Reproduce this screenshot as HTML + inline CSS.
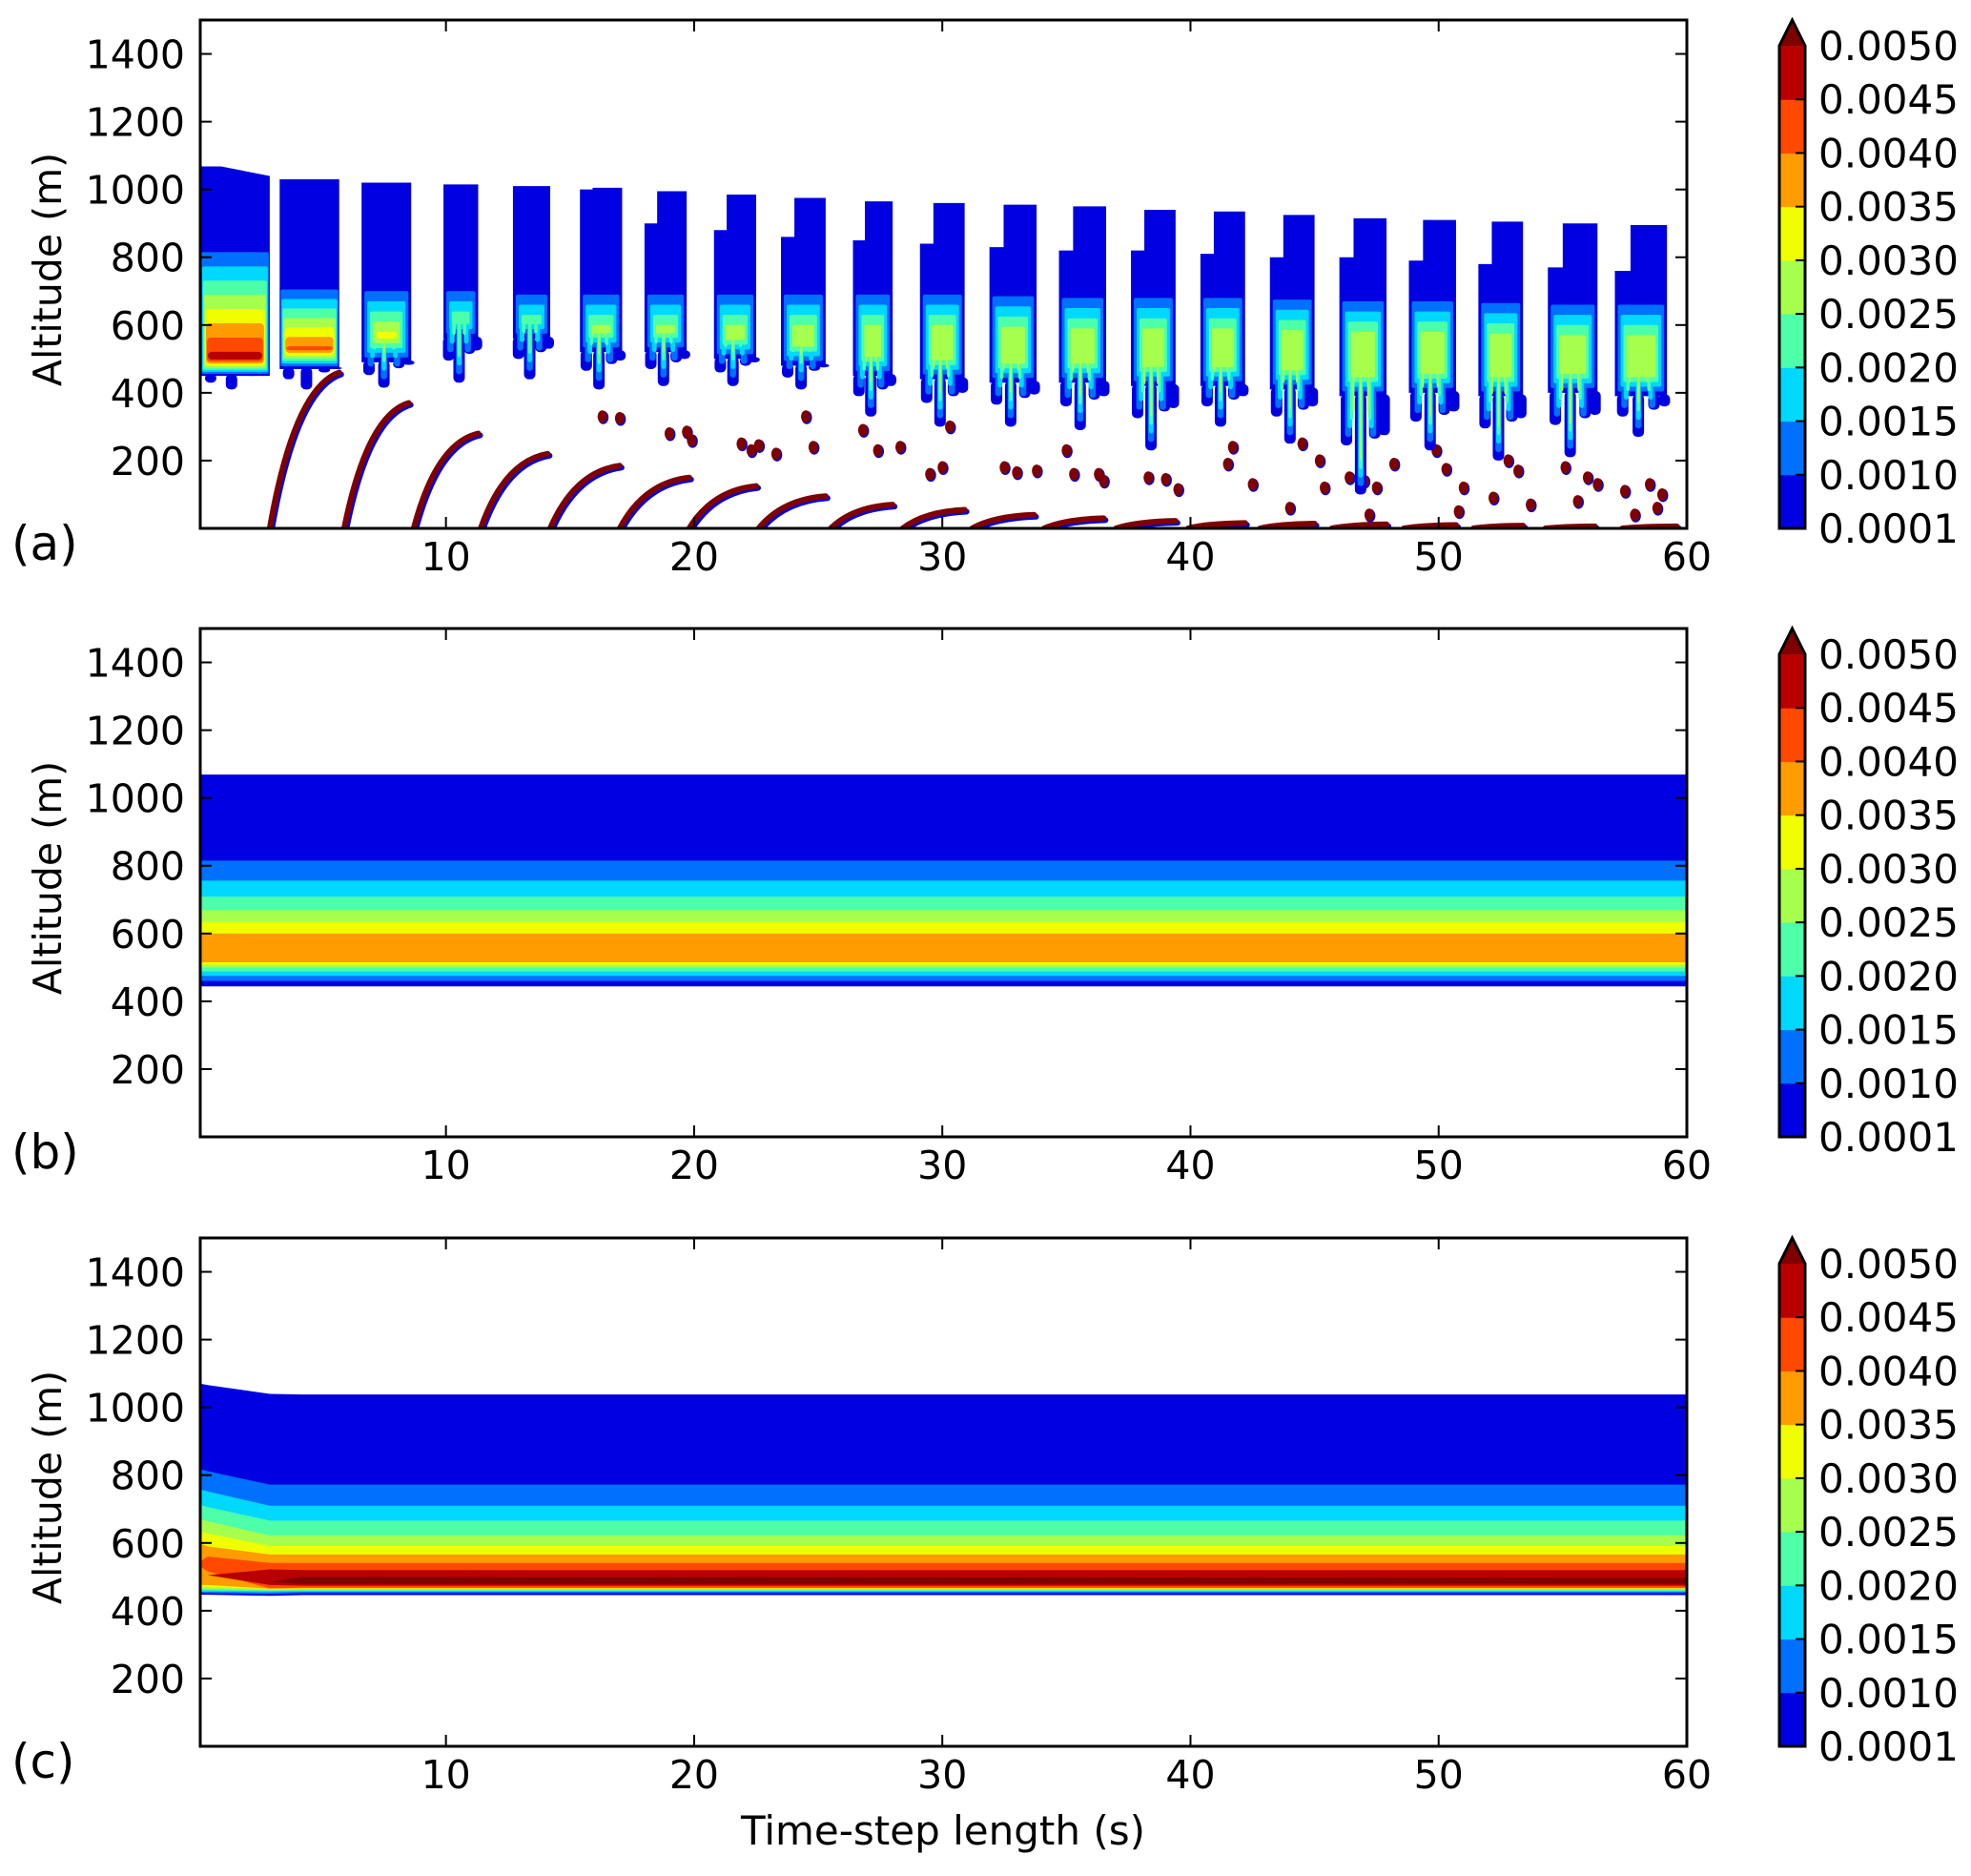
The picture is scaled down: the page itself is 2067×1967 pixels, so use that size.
<!DOCTYPE html>
<html><head><meta charset="utf-8"><style>
html,body{margin:0;padding:0;background:#fff;}
svg text{font-family:"DejaVu Sans","Liberation Sans",sans-serif;fill:#000;}
</style></head><body>
<svg id="fig" xmlns="http://www.w3.org/2000/svg" width="2067" height="1962" viewBox="0 0 2067 1962"></svg>
<script>
// ---- shared data ----
const levelColors = ["#0000e0","#0070ff","#00d8ff","#4cffa8","#a6ff4c","#f0ff00","#ff9c00","#ff4800","#b80000","#7f0000"];
const cbLabels = ["0.0001","0.0010","0.0015","0.0020","0.0025","0.0030","0.0035","0.0040","0.0045","0.0050"];
const yTicks = [200,400,600,800,1000,1200,1400];
const xTicks = [10,20,30,40,50,60];
const panelLetters = ["(a)","(b)","(c)"];

// ---- panel (a): clouds ----
const cloudStart = [0.1,3.3,6.6,9.9,12.7,15.4,18.0,20.8,23.5,26.4,29.1,31.9,34.7,37.6,40.4,43.2,46.0,48.8,51.6,54.4,57.1];
const cloudEnd   = [2.9,5.7,8.6,11.3,14.2,17.1,19.7,22.5,25.3,28.0,30.9,33.8,36.6,39.4,42.2,45.0,47.9,50.7,53.4,56.4,59.2];
const cloudTop   = [1068,1030,1020,1015,1010,1005,995,985,975,965,960,955,950,940,935,925,915,910,905,900,895];
const cloudShoulder=[1068,1030,1020,1015,1010,1000,900,880,860,850,840,830,820,820,810,800,800,790,780,770,760];
const cloudL1Top = [815,705,700,700,690,690,690,690,690,690,690,685,680,680,680,675,670,670,665,660,660];
const cloudMaxLvl= [9,9,5,4,3,4,4,4,4,4,4,4,4,4,4,4,4,4,4,4,4];
const cloudBase  = [450,470,490,560,560,520,520,500,480,450,440,430,430,420,420,410,390,400,390,400,390];
const cloudTail  = [410,410,415,430,440,410,420,420,410,330,300,300,290,230,300,250,100,230,200,210,270];
// precipitation arcs: [xTop, altTop, xGround]
const arcTopX = [5.7,8.5,11.3,14.1,17.0,19.8,22.5,25.3,28.0,30.9,33.7,36.5,39.4,42.2,45.0,47.9,50.7,53.4,56.3,59.6];
const arcTopAlt=[460,370,280,220,185,150,125,95,70,55,40,30,22,16,14,12,10,8,6,6];
const arcGroundX=[2.9,5.9,8.7,11.4,14.2,17.0,19.8,22.6,25.5,28.4,31.2,34.1,37.0,39.9,42.8,45.7,48.6,51.4,54.3,57.4];
const dropX = [16.3,17.0,19.0,19.7,19.9,21.9,22.3,22.6,23.3,24.5,24.8,26.8,27.4,28.3,29.5,30.0,30.3,32.5,33.0,33.8,35.0,35.3,36.3,36.5,38.3,39.0,39.5,41.7,41.5,42.5,44.5,45.2,45.4,46.4,47.0,47.5,48.2,49.9,50.3,51.0,52.8,53.2,53.7,55.1,56.0,56.4,58.5,59.0,58.8,57.5,44.0,47.2,50.8,52.2,55.6,57.9];
const dropAlt = [330,325,280,285,260,250,230,245,220,330,240,290,230,240,160,180,300,180,165,170,230,160,160,140,150,145,115,240,190,130,250,200,120,150,140,120,190,230,175,120,200,170,70,180,150,130,130,100,60,110,60,40,50,90,80,40];

// ---- panel (b): nested bands per level ----
const bBottoms = [444,460,475,488,500,508,515];
const bTops    = [1069,815,756,709,669,634,600];

// ---- panel (c): knots and per-level tops/bottoms ----
const cKnots = [0.1,0.4,2.9,4.2,60];
const cTops = [
  [1070,1066,1040,1038,1038],
  [818,812,772,772,772],
  [758,752,710,710,710],
  [712,706,666,666,666],
  [670,664,622,622,622],
  [635,628,591,591,591],
  [598,590,566,566,566],
  [545,560,541,541,541],
  [505,505,522,520,520],
  [485,485,485,500,497]
];
const cBots = [
  [447,447,444,446,446],
  [452,452,450,452,452],
  [456,456,454,456,456],
  [460,460,458,459,459],
  [464,464,461,462,462],
  [470,470,463,464,464],
  [476,476,465,466,466],
  [530,516,466,468,468],
  [505,505,476,474,474],
  [485,485,485,479,480]
];

// ---- layout ----
const X0=210, X1=1769, XMIN=0.1, XMAX=60;
const panelTops=[21,659,1298], PH=533;
const YMIN=0, YMAX=1500;
const CBX=1866, CBW=27;
const NS="http://www.w3.org/2000/svg";
const svg=document.getElementById('fig');
function el(tag, attrs, parent){const e=document.createElementNS(NS,tag);for(const k in attrs)e.setAttribute(k,attrs[k]);(parent||svg).appendChild(e);return e;}
function sx(v){return X0+(v-XMIN)/(XMAX-XMIN)*(X1-X0);}
function syF(top){return v=>top+PH-(v-YMIN)/(YMAX-YMIN)*PH;}

panelTops.forEach((top,pi)=>{
  const sy=syF(top);
  const g=el('g',{});
  
  
  const clipId='clip'+pi;
  const cp=el('clipPath',{id:clipId},g); el('rect',{x:X0,y:top,width:X1-X0,height:PH},cp);
  const plot=el('g',{'clip-path':'url(#'+clipId+')'},g);
  
  

  if(pi===0){
    arcTopX.forEach((xt,i)=>{
      const xg=arcGroundX[i], at=arcTopAlt[i];
      const x0=sx(xg), y0=sy(0), x2=sx(xt), y2=sy(at);
      const cx=sx(xg+0.35*(xt-xg)), cy=sy(at*0.9);
      const d=`M${x0},${y0} Q${cx},${cy} ${x2},${y2}`;
      el('path',{d:d,fill:'none',stroke:levelColors[0],'stroke-width':6,'stroke-linecap':'round',transform:'translate(2,2)'},plot);
      const p=el('path',{d:d,fill:'none',stroke:levelColors[9],'stroke-width':6,'stroke-linecap':'round'},plot);
      
      
    });
    dropX.forEach((x,i)=>{
      el('ellipse',{cx:sx(x)+1,cy:sy(dropAlt[i])+1,rx:5.5,ry:7,fill:levelColors[0]},plot);
      const c=el('ellipse',{cx:sx(x),cy:sy(dropAlt[i]),rx:5,ry:6.5,fill:levelColors[9]},plot);
      
      
    });
    cloudStart.forEach((s,i)=>{
      const e=cloudEnd[i], w=sx(e)-sx(s);
      const cg=el('g',{},plot);
      
      
      const fr=[0.15,0.45,0.75,0.95];
      for(let k=0;k<=cloudMaxLvl[i];k++){
        const inset=k===0?0:Math.min(w*0.4,(i<2?1:3)*k);
        const xl=sx(s)+inset, xr=sx(e)-inset;
        let topAlt = k===0?cloudTop[i]:cloudL1Top[i]-(k-1)*(i===0?42:(i===1?28:30));
        const baseAlt=cloudBase[i]+k*(i===0?6:(i<2?8:14));
        if(topAlt<=baseAlt) continue;
        const col=levelColors[k];
        if(k===0){
          const sh=xl+w*0.3;
          const path=`M${xl},${sy(cloudShoulder[i])} L${sh},${sy(cloudShoulder[i])} L${sh},${sy(cloudTop[i])} L${xr},${sy(cloudTop[i]-(i===0?28:0))} L${xr},${sy(baseAlt)} L${xl},${sy(baseAlt)} Z`;
          el('path',{d:path,fill:col},cg);
          fr.forEach((f,j)=>{
            const fx=xl+w*f, tailAlt=j===1?cloudTail[i]:(cloudTail[i]+baseAlt)/2+j*10;
            el('rect',{x:fx-6,y:sy(baseAlt)-2,width:12,height:Math.max(0,sy(tailAlt)-sy(baseAlt)+2),rx:5,fill:col},cg);
          });
        } else {
          el('rect',{x:xl,y:sy(topAlt),width:Math.max(0,xr-xl),height:sy(baseAlt)-sy(topAlt),rx:k>4?4:2,fill:col},cg);
          if(i>1 && k<=4){
            fr.slice(0,3).forEach((f,j)=>{
              const fx=xl+(xr-xl)*f, tailAlt=(j===1?cloudTail[i]:(cloudTail[i]+cloudBase[i])/2)+k*25;
              if(tailAlt<baseAlt) el('rect',{x:fx-4+k*0.5,y:sy(baseAlt)-2,width:Math.max(2,8-k*1.5),height:sy(tailAlt)-sy(baseAlt)+2,rx:3,fill:col},cg);
            });
          }
        }
      }
    });
  } else if(pi===1){
    bBottoms.forEach((b,k)=>{
      const r=el('rect',{x:X0,y:sy(bTops[k]),width:X1-X0,height:sy(b)-sy(bTops[k]),fill:levelColors[k]},plot);
      
      
    });
  } else {
    cTops.forEach((tops,k)=>{
      const bots=cBots[k];
      let d='';
      cKnots.forEach((x,j)=>{d+=(j?'L':'M')+sx(x)+','+sy(tops[j])+' ';});
      for(let j=cKnots.length-1;j>=0;j--) d+='L'+sx(cKnots[j])+','+sy(bots[j])+' ';
      const p=el('path',{d:d+'Z',fill:levelColors[k]},plot);
      
      
    });
  }

  const fr=el('rect',{x:X0,y:top,width:X1-X0,height:PH,fill:'none',stroke:'#000','stroke-width':3},g);
  
  
  yTicks.forEach(v=>{
    const y=sy(v);
    el('line',{x1:X0,y1:y,x2:X0+12,y2:y,stroke:'#000','stroke-width':2},g);
    el('line',{x1:X1,y1:y,x2:X1-12,y2:y,stroke:'#000','stroke-width':2},g);
    const t=el('text',{x:194,y:y+15,'text-anchor':'end','font-size':41},g);
    t.textContent=v;
    
    
  });
  xTicks.forEach(v=>{
    const x=sx(v);
    el('line',{x1:x,y1:top+PH,x2:x,y2:top+PH-12,stroke:'#000','stroke-width':2},g);
    el('line',{x1:x,y1:top,x2:x,y2:top+12,stroke:'#000','stroke-width':2},g);
    const t=el('text',{x:x,y:top+PH+44,'text-anchor':'middle','font-size':41},g);
    t.textContent=v;
    
    
  });
  const yl=el('text',{x:0,y:0,'text-anchor':'middle','font-size':41,transform:`translate(64,${top+PH/2-5}) rotate(-90)`},g);
  yl.textContent='Altitude (m)';
  
  
  const pl=el('text',{x:12,y:top+PH+33,'font-size':50},g);
  pl.textContent=panelLetters[pi];
  
  

  const cb=el('g',{},g);
  
  
  const cbTop=top+27, cbBot=top+PH, segH=(cbBot-cbTop)/9;
  for(let k=0;k<9;k++){
    el('rect',{x:CBX,y:cbBot-(k+1)*segH,width:CBW,height:segH+0.5,fill:levelColors[k]},cb);
  }
  el('path',{d:`M${CBX},${cbTop} L${CBX+CBW/2},${top} L${CBX+CBW},${cbTop} Z`,fill:levelColors[9]},cb);
  el('path',{d:`M${CBX},${cbBot} L${CBX},${cbTop} L${CBX+CBW/2},${top} L${CBX+CBW},${cbTop} L${CBX+CBW},${cbBot} Z`,fill:'none',stroke:'#000','stroke-width':3},cb);
  cbLabels.forEach((lab,k)=>{
    const y=cbBot-k*segH;
    if(k>0&&k<9) el('line',{x1:CBX+CBW-10,y1:y,x2:CBX+CBW,y2:y,stroke:'#000','stroke-width':2},cb);
    const t=el('text',{x:1907,y:y+15,'font-size':42},cb);
    t.textContent=lab;
    
    
  });
});
const xt=el('text',{x:989,y:1934,'text-anchor':'middle','font-size':42});
xt.textContent='Time-step length (s)';


</script>
</body></html>
